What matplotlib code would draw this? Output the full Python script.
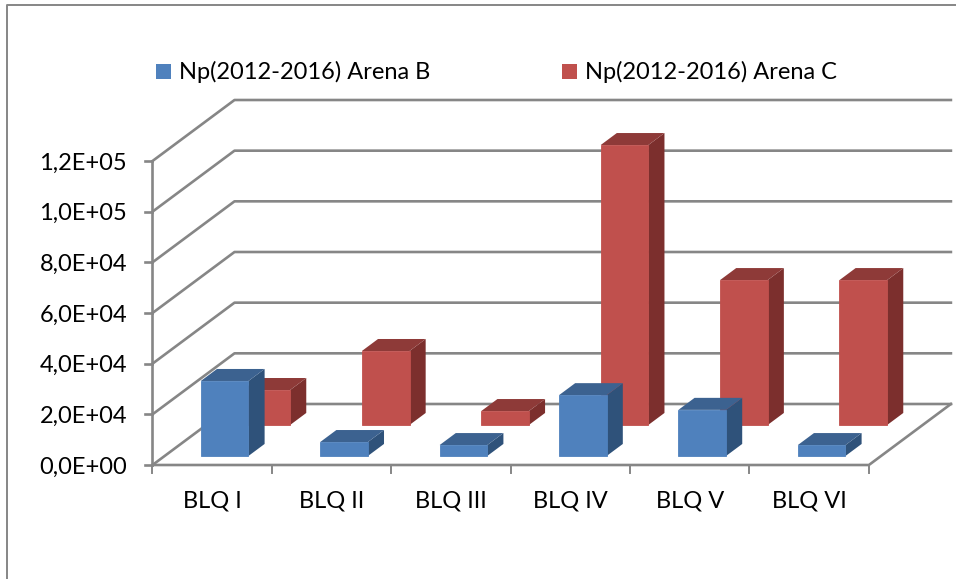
import numpy as np
import matplotlib
matplotlib.use('Agg')
import matplotlib.pyplot as plt
from matplotlib.patches import Polygon, Rectangle

categories = ['BLQ I', 'BLQ II', 'BLQ III', 'BLQ IV', 'BLQ V', 'BLQ VI']
arena_b = [29600, 5500, 4300, 24000, 18200, 4300]
arena_c = [13800, 29200, 5500, 110500, 57200, 57200]
ticks = [0, 20000, 40000, 60000, 80000, 100000, 120000]
tick_labels = ['0,0E+00', '2,0E+04', '4,0E+04', '6,0E+04', '8,0E+04', '1,0E+05', '1,2E+05']
legend_labels = ['Np(2012-2016) Arena B', 'Np(2012-2016) Arena C']

plt.rcParams['font.family'] = ['Lato', 'DejaVu Sans']

# oblique projection: category, depth (0-1), value -> pixel
x0, y0 = 152.5, 465
cat_w = 119.4
depth_x, depth_y = 82, 61
yscale = 304 / 120000


def proj(c, d, v):
    return (x0 + c * cat_w + d * depth_x, y0 - v * yscale - d * depth_y)


def bar3d(ax, i, d, v, front, top, side):
    left, right = i + 0.303, i + 0.702
    d2 = d + 0.197
    ax.add_patch(Polygon([proj(right, d, 0), proj(right, d2, 0), proj(right, d2, v), proj(right, d, v)], fc=side, ec='none', zorder=3))
    ax.add_patch(Polygon([proj(left, d, v), proj(right, d, v), proj(right, d2, v), proj(left, d2, v)], fc=top, ec='none', zorder=3))
    ax.add_patch(Polygon([proj(left, d, 0), proj(right, d, 0), proj(right, d, v), proj(left, d, v)], fc=front, ec=front, lw=0.6, zorder=3))


fig = plt.figure(figsize=(9.56, 5.79), dpi=100)
ax = fig.add_axes([0, 0, 1, 1])
ax.set_xlim(0, 956)
ax.set_ylim(579, 0)
ax.axis('off')

grid = '#868686'
n = len(categories)

# outer frame
ax.plot([7, 7, 956], [579, 5, 5], color=grid, lw=1.4)

# walls and floor
for t, lab in zip(ticks, tick_labels):
    a = proj(0, 0, t)
    b = proj(0, 1, t)
    c = proj(n, 1, t)
    ax.plot([a[0], b[0], c[0]], [a[1], b[1], c[1]], color=grid, lw=1.9, zorder=1)
    ax.plot([a[0] - 7, a[0]], [a[1], a[1]], color=grid, lw=1.9, zorder=1)
    ax.text(127, a[1] + 2, lab, ha='right', va='center', fontsize=17, color='black')

f1 = proj(0, 0, 0)
f2 = proj(n, 0, 0)
f3 = proj(n, 1, 0)
ax.plot([f1[0], f2[0], f3[0]], [f1[1], f2[1], f3[1]], color=grid, lw=1.9, zorder=1)
top = proj(0, 0, ticks[-1])
ax.plot([f1[0], top[0]], [f1[1], top[1]], color=grid, lw=1.9, zorder=1)

for i in range(n + 1):
    p = proj(i, 0, 0)
    ax.plot([p[0], p[0]], [p[1], p[1] + 8], color=grid, lw=1.4, zorder=1)

# bars, back row first
for i in range(n):
    bar3d(ax, i, 0.656, arena_c[i], '#C0504D', '#8E3A38', '#7C2F2D')
for i in range(n):
    bar3d(ax, i, 0.148, arena_b[i], '#4F81BD', '#3C6290', '#2F527A')

for i, lab in enumerate(categories):
    ax.text(proj(i + 0.5, 0, 0)[0], 501, lab, ha='center', va='center', fontsize=17, color='black')

# legend
for xs, xt, col, lab in zip([156, 562], [179, 585], ['#4F81BD', '#C0504D'], legend_labels):
    ax.add_patch(Rectangle((xs, 64), 15, 15, fc=col, ec='none'))
    ax.text(xt, 72, lab, ha='left', va='center', fontsize=17, color='black')

fig.savefig('out.png', dpi=100)
